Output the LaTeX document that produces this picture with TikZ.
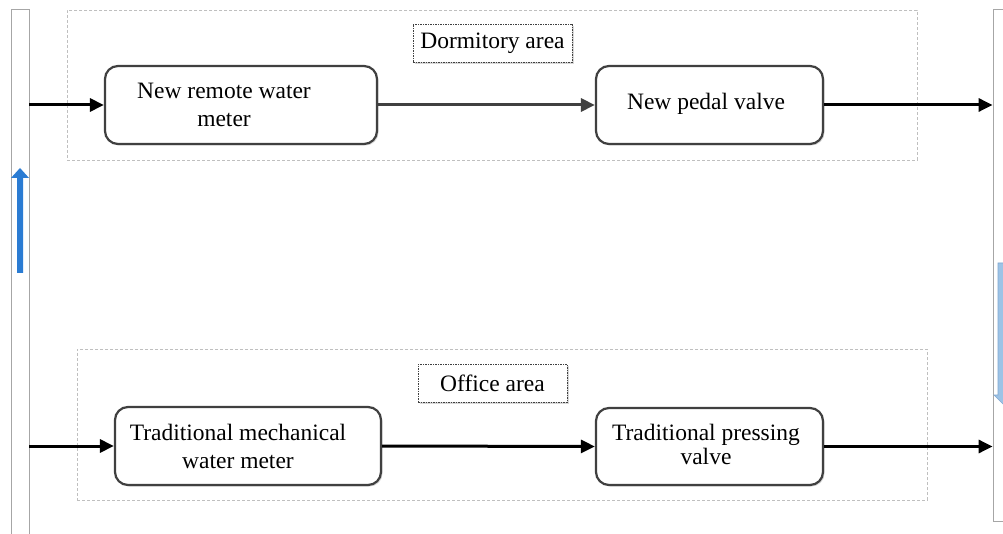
\documentclass[tikz,border=0pt]{standalone}
\usepackage{fontspec}
\setmainfont{Liberation Serif}
\usetikzlibrary{arrows.meta,shadows,positioning}
\definecolor{boxline}{HTML}{404040}
\definecolor{arealine}{HTML}{BFBFBF}
\definecolor{pipeline}{HTML}{A6A6A6}
\definecolor{blueup}{HTML}{2B7CD3}
\definecolor{bluedown}{HTML}{9DC3E6}
\definecolor{bluedownline}{HTML}{7FA7D0}
\tikzset{
  area/.style={draw=arealine, line width=0.8pt, dash pattern=on 3pt off 2pt, inner sep=0pt},
  arealabel/.style={draw=boxline, line width=0.9pt, dash pattern=on 1.5pt off 1pt, fill=white, inner sep=0pt,
    drop shadow={shadow xshift=1.8pt, shadow yshift=-1.8pt, opacity=0.3}, font=\fontsize{23.5}{28}\selectfont},
  procbox/.style={draw=boxline, line width=2.2pt, rounded corners=13pt, fill=white, inner sep=0pt,
    drop shadow={shadow xshift=1.5pt, shadow yshift=-1.5pt, opacity=0.3}},
  boxtext/.style={align=center, inner sep=0pt, font=\fontsize{23.5}{28}\selectfont},
  pipe/.style={draw=pipeline, line width=0.8pt, fill=white, inner sep=0pt},
  flow/.style={line width=3pt, -{Triangle[length=14pt,width=13pt]}},
}
\begin{document}
\begin{tikzpicture}[x=1pt,y=-1pt]
\clip (0,0) rectangle (1003,534);
\fill[white] (0,0) rectangle (1003,534);
% pipes
\node[pipe, minimum width=18pt, minimum height=532pt] (lpipe) at (20,275) {};
\node[pipe, minimum width=22pt, minimum height=512pt] (rpipe) at (1004,265) {};
% blue arrows
\fill[blueup] (17,273) -- (17,178) -- (11,178) -- (20,168) -- (29,178) -- (23,178) -- (23,273) -- cycle;
\filldraw[fill=bluedown, draw=bluedownline, line width=0.6pt] (998,263) -- (1022,263) -- (1022,395) -- (1026,395) -- (1010,411) -- (994,395) -- (998,395) -- cycle;
% areas
\node[area, minimum width=850pt, minimum height=150pt] (dorm) at (492,85) {};
\node[area, minimum width=850pt, minimum height=151pt] (office) at (502,424.5) {};
\node[arealabel, minimum width=159pt, minimum height=38pt] (dormlabel) at (492.5,43) {Dormitory area};
\node[arealabel, minimum width=149pt, minimum height=38pt] (officelabel) at (492.5,383) {Office area};
% boxes
\node[procbox, minimum width=272pt, minimum height=78pt] (b1) at (241,105) {};
\node[procbox, minimum width=227pt, minimum height=78pt] (b2) at (709.5,105) {};
\node[procbox, minimum width=266pt, minimum height=78pt] (b3) at (248,446) {};
\node[procbox, minimum width=227pt, minimum height=77pt] (b4) at (709.5,446.5) {};
\node[boxtext] (t1) at (224,105) {New remote water\\meter};
\node[boxtext] (t2) at (706,104) {New pedal valve};
\node[boxtext] (t3) at (238,446.5) {Traditional mechanical\\water meter};
\node[boxtext, font=\fontsize{23.5}{24}\selectfont] (t4) at (706,444) {Traditional pressing\\valve};
% connectors
\draw[flow] (lpipe.east |- b1.west) -- (b1.west);
\draw[flow, draw=boxline, fill=boxline] (b1.east) -- (b2.west);
\draw[flow] (b2.east) -- (rpipe.west |- b2.east);
\draw[flow] (lpipe.east |- b3.west) -- (b3.west);
\draw[flow] (b3.east) -- (b4.west);
\draw[flow] (b4.east) -- (rpipe.west |- b4.east);
\end{tikzpicture}
\end{document}
